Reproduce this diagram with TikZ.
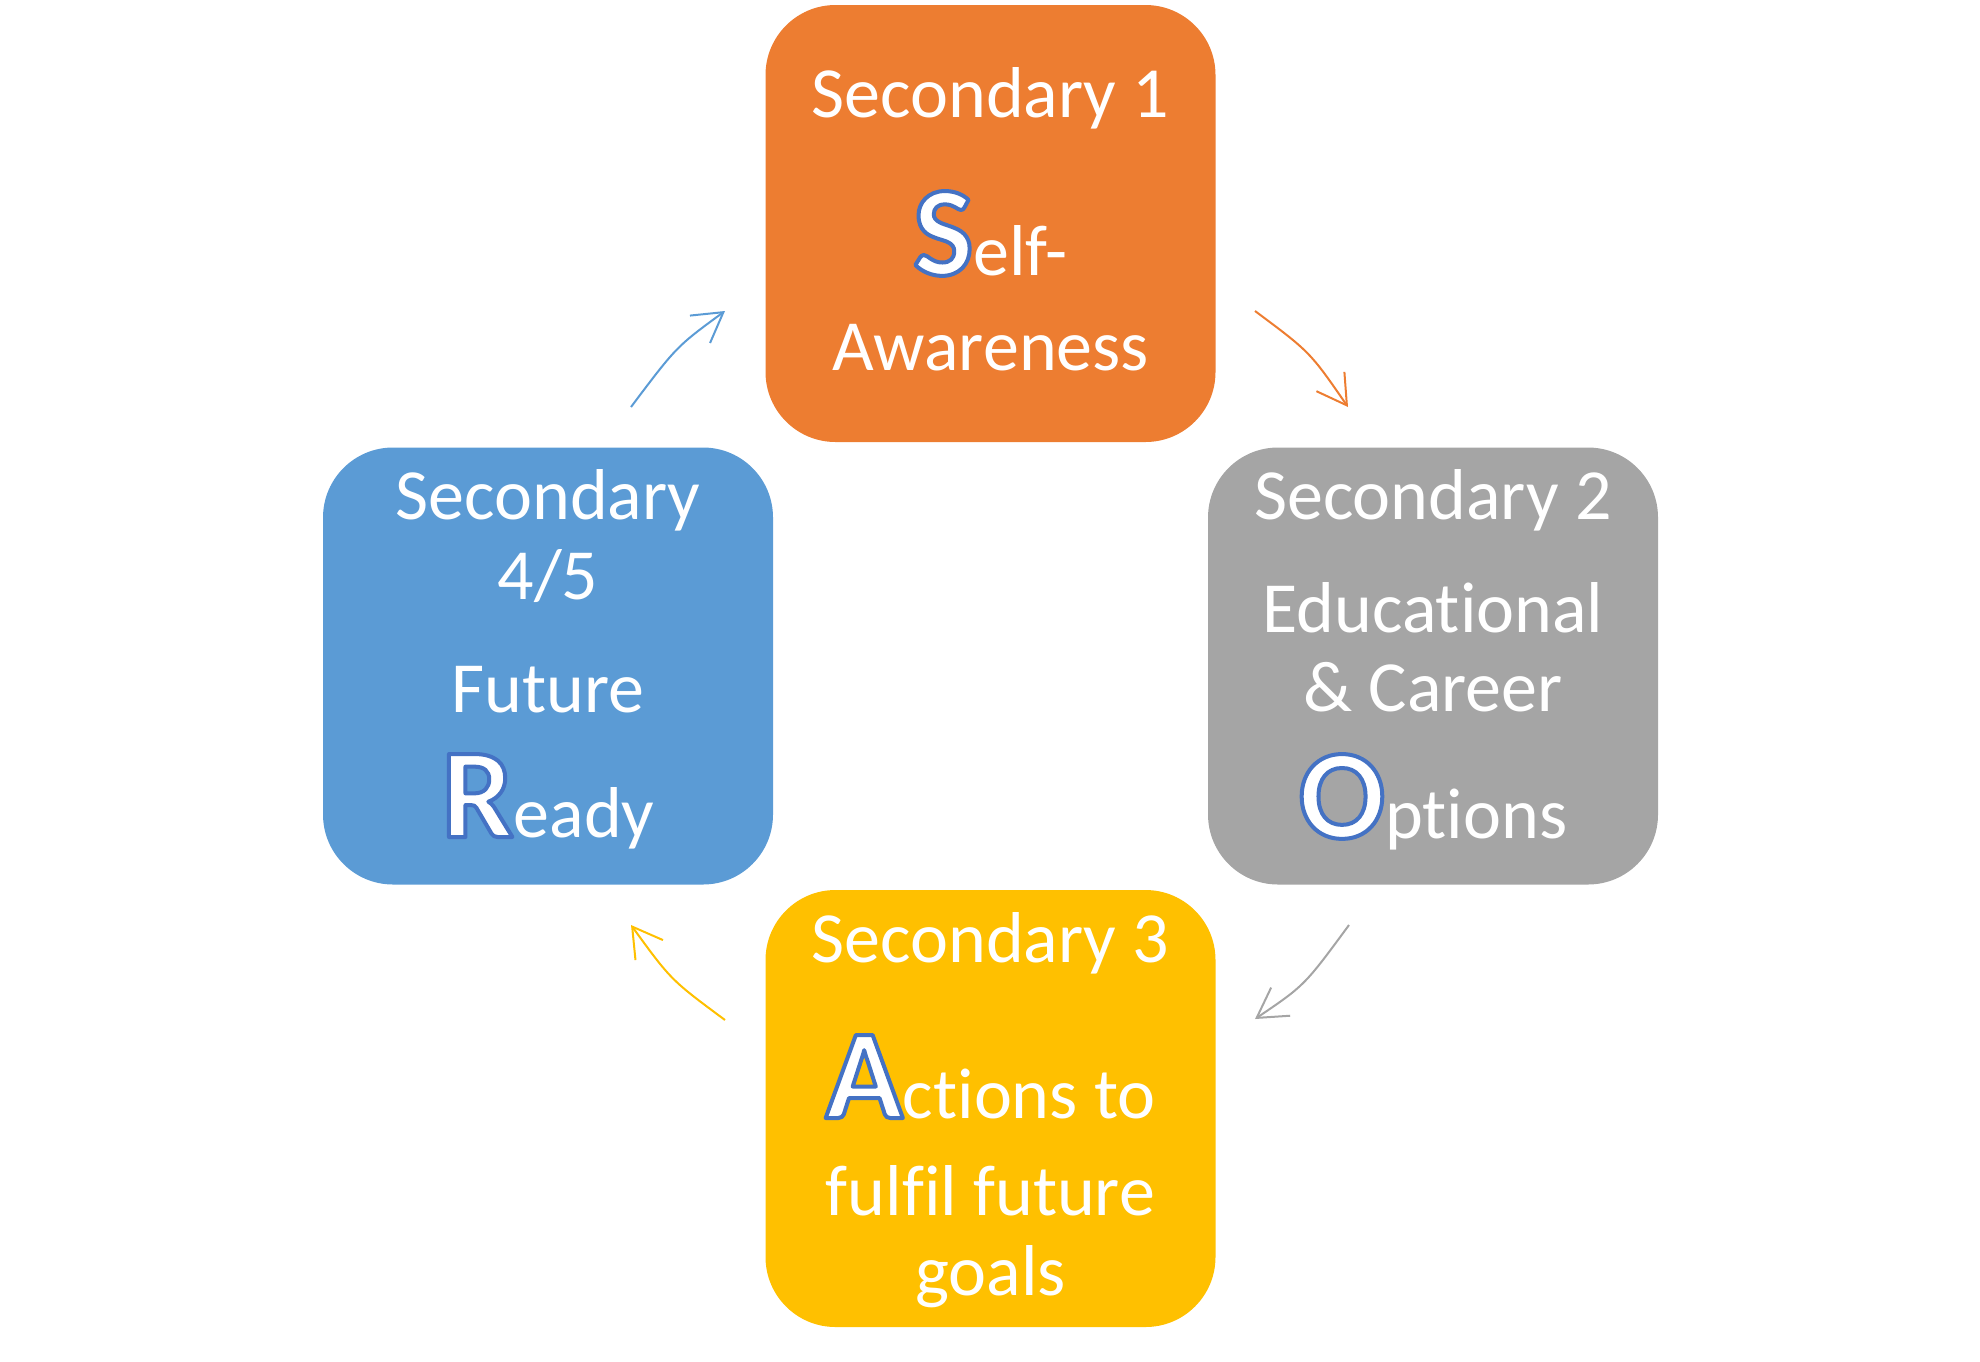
\documentclass[tikz,border=0pt]{standalone}
\usepackage{fontspec}
\setmainfont{Carlito}[Ligatures=NoCommon]
\usetikzlibrary{arrows.meta}
\definecolor{sorange}{HTML}{ED7D31}
\definecolor{sgray}{HTML}{A5A5A5}
\definecolor{syellow}{HTML}{FFC000}
\definecolor{sblue}{HTML}{5B9BD5}
\definecolor{olblue}{HTML}{4472C4}
\newcommand\capltr[1]{{\fontsize{64}{64}\selectfont\bfseries\special{pdf:literal direct 2 Tr 2 w 1 j 0.267 0.447 0.769 RG}#1\special{pdf:literal direct 0 Tr}}}
\tikzset{
  stagebox/.style={rectangle, rounded corners=35pt, minimum width=225pt, minimum height=218.5pt, inner sep=0pt, draw=none},
  line/.style={anchor=base, inner sep=0pt, text=white, font=\fontsize{36}{43}\selectfont},
  cyc/.style={line width=1pt, -{Straight Barb[length=14.5pt,width=17pt,line width=1pt]}}
}
\begin{document}
\begin{tikzpicture}[x=0.5pt,y=-0.5pt]
\useasboundingbox (0,0) rectangle (1980,1361);
% boxes
\node[stagebox, fill=sorange] (b1) at (990.5,223.5) {};
\node[stagebox, fill=sgray]   (b2) at (1433,666) {};
\node[stagebox, fill=syellow] (b3) at (990.5,1108.5) {};
\node[stagebox, fill=sblue]   (b4) at (548,666) {};
% Secondary 1
\node[line] (t1a) at (990.5,117) {Secondary 1};
\node[line] (t1b) at (990.5,275) {\capltr{S}elf-};
\node[line] (t1c) at (990.5,370) {Awareness};
% Secondary 2
\node[line] (t2a) at (1433,519) {Secondary 2};
\node[line] (t2b) at (1433,632) {Educational};
\node[line] (t2c) at (1433,711) {\& Career};
\node[line] (t2d) at (1433,838) {\capltr{O}ptions};
% Secondary 3
\node[line] (t3a) at (990.5,962) {Secondary 3};
\node[line] (t3b) at (990.5,1118) {\capltr{A}ctions to};
\node[line] (t3c) at (990.5,1215) {fulfil future};
\node[line] (t3d) at (990.5,1295) {goals};
% Secondary 4/5
\node[line] (t4a) at (548,519) {Secondary};
\node[line] (t4b) at (548,599) {4/5};
\node[line] (t4c) at (548,712) {Future};
\node[line] (t4d) at (548,837) {\capltr{R}eady};
% arrow ends
\coordinate (a1s) at (1255,311); \coordinate (a1c) at (1310,352); \coordinate (a1e) at (1348,407);
\coordinate (a2s) at (1349,925); \coordinate (a2c) at (1304.5,985.5); \coordinate (a2e) at (1255,1019);
\coordinate (a3s) at (725,1020); \coordinate (a3c) at (671,980); \coordinate (a3e) at (631,925);
\coordinate (a4s) at (631,407); \coordinate (a4c) at (676.5,346.5); \coordinate (a4e) at (725,311);
\draw[cyc, sorange] (a1s) .. controls (a1c) .. (a1e);
\draw[cyc, sgray]   (a2s) .. controls (a2c) .. (a2e);
\draw[cyc, syellow] (a3s) .. controls (a3c) .. (a3e);
\draw[cyc, sblue]   (a4s) .. controls (a4c) .. (a4e);
\end{tikzpicture}
\end{document}
